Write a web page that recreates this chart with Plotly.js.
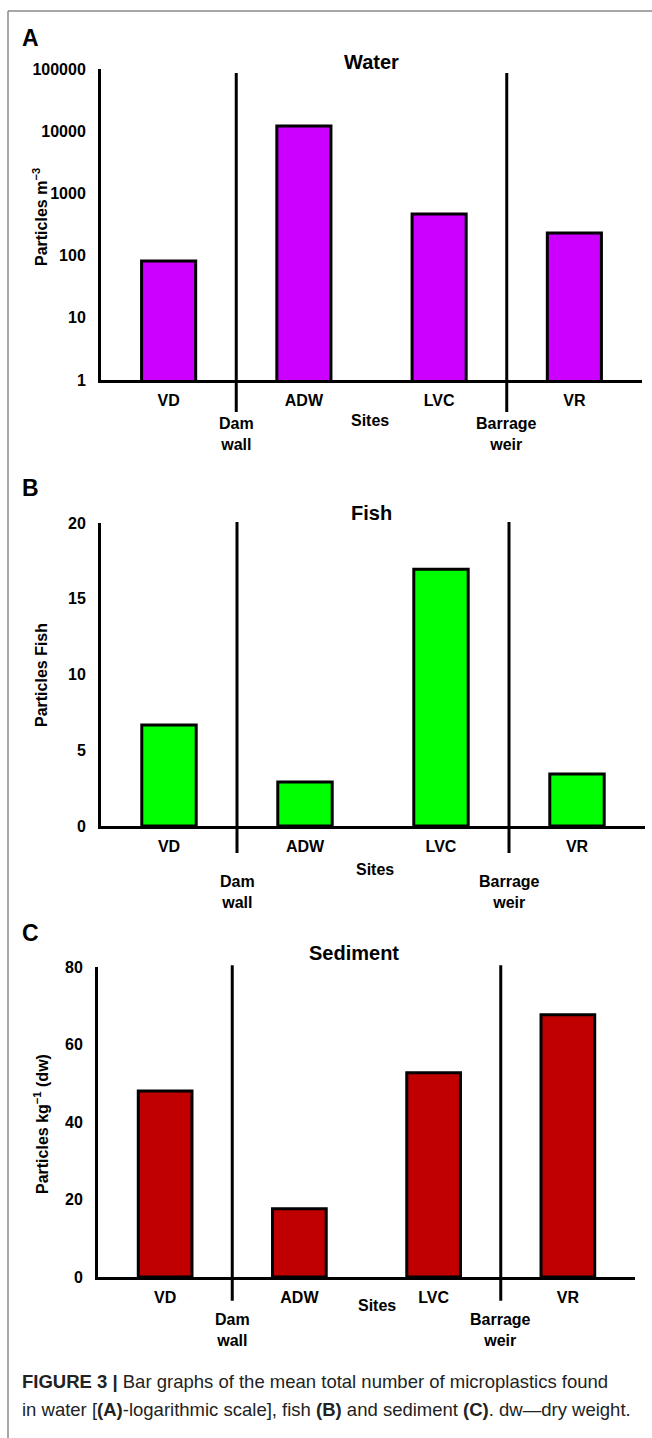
<!DOCTYPE html>
<html><head><meta charset="utf-8">
<script src="https://cdn.plot.ly/plotly-3.0.1.min.js"></script>
<style>html,body{margin:0;padding:0;background:#fff;} #chart{width:652px;height:1438px;}</style>
</head><body><div id="chart"></div>
<script>
// ---- data ----
const sites = ["VD", "ADW", "LVC", "VR"];
const water = [82, 12100, 466, 231];        // particles m^-3 (log scale)
const fish = [6.67, 2.9, 16.95, 3.43];      // particles per fish
const sediment = [48, 17.6, 52.7, 67.7];    // particles kg^-1 (dw)
const waterTicks = [1, 10, 100, 1000, 10000, 100000];
const fishTicks = [0, 5, 10, 15, 20];
const sedimentTicks = [0, 20, 40, 60, 80];
const dividerLabels = ["Dam<br>wall", "Barrage<br>weir"];
const dividerAfterSite = [0, 2];
const panelTitles = ["Water", "Fish", "Sediment"];
const panelLetters = ["A", "B", "C"];
const yTitles = ["Particles m<sup>\u22123</sup>", "Particles Fish", "Particles kg<sup>\u22121</sup> (dw)"];
const captionLines = [
  "<b>FIGURE 3 |</b> Bar graphs of the mean total number of microplastics found",
  "in water [<b>(A)</b>-logarithmic scale], fish <b>(B)</b> and sediment <b>(C)</b>. dw\u2014dry weight."
];

// ---- layout helpers ----
const W = 652, H = 1438;
const FONT = "Liberation Sans, Arial, Helvetica, sans-serif";
const fx = p => p / W;
const fy = p => 1 - p / H;
const siteX = sites.map((s, i) => 2 * i + 1);
const dividerX = dividerAfterSite.map(i => 2 * i + 2);

const panels = [
  {vals: water, color: "#CC00FF", ticks: waterTicks, type: "log", range: [0, 5],
   xpx: [101, 642], ypx: [69, 380], divY: [-0.103, 0.987],
   title: [371, 62], letter: [30, 38], ytitle: [40, 217],
   sites: [370, 420], divLab: 434},
  {vals: fish, color: "#00FF00", ticks: fishTicks, type: "linear", range: [0, 20],
   xpx: [101, 645], ypx: [523, 826], divY: [-0.089, 1.003],
   title: [371, 513], letter: [30, 488], ytitle: [41, 675],
   sites: [375, 869], divLab: 892},
  {vals: sediment, color: "#C00000", ticks: sedimentTicks, type: "linear", range: [0, 80],
   xpx: [98, 635], ypx: [967, 1277], divY: [-0.077, 1.006],
   title: [354, 953], letter: [30, 933], ytitle: [41, 1124],
   sites: [377, 1305], divLab: 1330}
];

const traces = [];
const layout = {
  width: W, height: H, margin: {l: 0, r: 0, t: 0, b: 0},
  paper_bgcolor: "#fff", plot_bgcolor: "rgba(0,0,0,0)",
  showlegend: false, font: {family: FONT, color: "#000"},
  shapes: [], annotations: []
};

panels.forEach((p, k) => {
  const n = k === 0 ? "" : String(k + 1);
  const xa = "x" + n, ya = "y" + n;
  traces.push({
    type: "bar", x: siteX, y: p.vals, width: 0.8,
    xaxis: xa, yaxis: ya,
    marker: {color: p.color, line: {color: "#000", width: 3}},
    hoverinfo: "y"
  });
  layout["xaxis" + n] = {
    domain: [fx(p.xpx[0]), fx(p.xpx[1])], range: [0, 8], anchor: ya,
    tickmode: "array", tickvals: siteX, ticktext: sites, ticks: "",
    showline: true, linewidth: 3, linecolor: "#000",
    showgrid: false, zeroline: false, fixedrange: true,
    tickfont: {family: FONT, size: 16, weight: "bold", color: "#000"},
    ticklabelstandoff: 4
  };
  layout["yaxis" + n] = {
    domain: [fy(p.ypx[1]), fy(p.ypx[0])], type: p.type, range: p.range, anchor: xa,
    tickmode: "array", tickvals: p.ticks, ticktext: p.ticks.map(String), ticks: "",
    showline: true, linewidth: 3, linecolor: "#000",
    showgrid: false, zeroline: false, fixedrange: true,
    tickfont: {family: FONT, size: 16, weight: "bold", color: "#000"},
    ticklabelstandoff: 9
  };
  dividerX.forEach((dx, j) => {
    layout.shapes.push({type: "line", xref: xa, yref: ya + " domain",
      x0: dx, x1: dx, y0: p.divY[0], y1: p.divY[1], line: {color: "#000", width: 3}});
    layout.annotations.push({xref: xa, yref: "paper", x: dx, y: fy(p.divLab),
      text: dividerLabels[j], showarrow: false, xanchor: "center", yanchor: "middle",
      font: {family: FONT, size: 16, weight: "bold", color: "#000"}});
  });
  layout.annotations.push(
    {xref: "paper", yref: "paper", x: fx(p.title[0]), y: fy(p.title[1]), text: "<b>" + panelTitles[k] + "</b>",
     showarrow: false, xanchor: "center", yanchor: "middle", font: {family: FONT, size: 20, color: "#000"}},
    {xref: "paper", yref: "paper", x: fx(p.letter[0]), y: fy(p.letter[1]), text: "<b>" + panelLetters[k] + "</b>",
     showarrow: false, xanchor: "center", yanchor: "middle", font: {family: FONT, size: 23, color: "#000"}},
    {xref: "paper", yref: "paper", x: fx(p.ytitle[0]), y: fy(p.ytitle[1]), text: "<b>" + yTitles[k] + "</b>",
     textangle: -90, showarrow: false, xanchor: "center", yanchor: "middle", font: {family: FONT, size: 16, color: "#000"}},
    {xref: "paper", yref: "paper", x: fx(p.sites[0]), y: fy(p.sites[1]), text: "<b>Sites</b>",
     showarrow: false, xanchor: "center", yanchor: "middle", font: {family: FONT, size: 16, color: "#000"}}
  );
});

// caption
captionLines.forEach((t, i) => {
  layout.annotations.push({xref: "paper", yref: "paper", x: fx(20), y: fy(1381 + 28 * i),
    text: t, showarrow: false, xanchor: "left", yanchor: "middle", align: "left",
    font: {family: FONT, size: 18.5, color: "#222"}});
});

// page frame
layout.shapes.push(
  {type: "line", xref: "paper", yref: "paper", x0: fx(8), x1: 1, y0: fy(11), y1: fy(11), line: {color: "#8a8a8a", width: 1.5}},
  {type: "line", xref: "paper", yref: "paper", x0: fx(8), x1: fx(8), y0: 0, y1: fy(11), line: {color: "#8a8a8a", width: 1.5}}
);

Plotly.newPlot("chart", traces, layout, {displayModeBar: false, staticPlot: true});
</script>
</body></html>
